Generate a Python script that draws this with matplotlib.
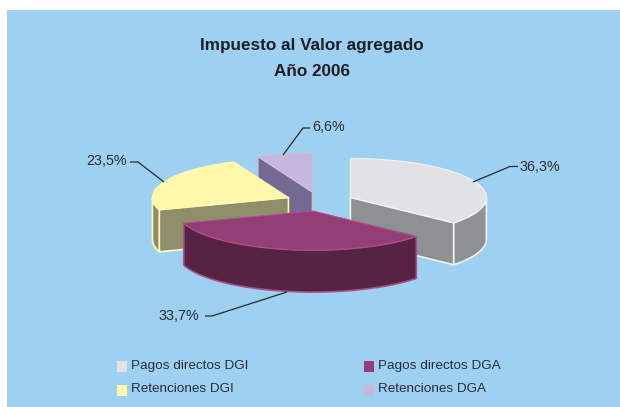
import numpy as np
import matplotlib
matplotlib.use("Agg")
import matplotlib.pyplot as plt
from matplotlib.patches import Polygon, Rectangle

plt.rcParams['font.family'] = ['Liberation Sans', 'DejaVu Sans']

title_lines = ["Impuesto al Valor agregado", "Año 2006"]
categories = ["Pagos directos DGI", "Pagos directos DGA", "Retenciones DGI", "Retenciones DGA"]
values = [36.3, 33.7, 23.5, 6.6]
value_labels = ["36,3%", "33,7%", "23,5%", "6,6%"]
top_colors = ["#E1E2E4", "#933F75", "#FFF7AC", "#C7B7DC"]
side_colors = ["#8F9092", "#572342", "#8E8F6A", "#736A92"]
edge_colors = ["#F2F3F4", "#A8508A", "#FFF9B4", "#CDBEE0"]

BG = "#9DD0F1"
INK = "#2C2C34"
CX, CY = 319.5, 201.5  # pie centre
A, B = 136, 39         # ellipse radii
DEPTH = 42
EXPLODE = 0.25

fig = plt.figure(figsize=(6.2, 4.07), dpi=100, facecolor="white")
ax = fig.add_axes([0, 0, 1, 1])
ax.set_xlim(0, 620)
ax.set_ylim(407, 0)
ax.axis("off")
ax.add_patch(Rectangle((7, 10), 613, 397, fc=BG, ec="none", zorder=0))

total = sum(values)
fracs = np.array(values) / total * 360
starts = np.concatenate([[0], np.cumsum(fracs)[:-1]])
ends = starts + fracs


def pt(c, deg, dy=0):
    r = np.radians(deg)
    return c[0] + A * np.sin(r), c[1] - B * np.cos(r) + dy


def arc(c, a0, a1, dy=0):
    t = np.linspace(a0, a1, 80)
    r = np.radians(t)
    return np.column_stack([c[0] + A * np.sin(r), c[1] - B * np.cos(r) + dy])


centers = []
for s, e in zip(starts, ends):
    m = np.radians((s + e) / 2)
    centers.append((CX + EXPLODE * A * np.sin(m), CY - EXPLODE * B * np.cos(m)))

z = 2
for i in [3, 2, 0, 1]:
    c, s, e = centers[i], starts[i], ends[i]
    side, ec = side_colors[i], edge_colors[i]
    # flat radial faces
    radial = []
    if i == 0:
        radial.append(e)
    if i in (2, 3):
        radial.append(s)
    for ang in radial:
        p = pt(c, ang)
        ax.add_patch(Polygon([c, p, (p[0], p[1] + DEPTH), (c[0], c[1] + DEPTH)],
                             fc=side, ec=ec, lw=1.2, zorder=z, joinstyle="miter"))
    # outer wall, front half only
    w0, w1 = max(s, 90), min(e, 270)
    if w1 > w0:
        upper = arc(c, w0, w1)
        lower = arc(c, w0, w1, DEPTH)[::-1]
        ax.add_patch(Polygon(np.vstack([upper, lower]), fc=side, ec=ec, lw=1.2,
                             zorder=z, joinstyle="miter"))
    # top face
    ax.add_patch(Polygon(np.vstack([[c], arc(c, s, e)]), fc=top_colors[i], ec=ec, lw=0.8,
                         zorder=z + 0.5, joinstyle="miter"))
    z += 1

# leader lines and value labels
leaders = [
    ([473, 510, 518], [182, 166.5, 166.5], 519, 167, "left"),
    ([287, 212, 205], [292, 316, 316], 199, 316, "right"),
    ([164, 138, 130], [182, 162, 162], 127, 161, "right"),
    ([283, 303, 310], [155, 128, 128], 312, 127, "left"),
]
for (lx, ly, tx, ty, ha), lab in zip(leaders, value_labels):
    ax.plot(lx, ly, color="#2A2A2A", lw=0.9, zorder=20, solid_capstyle="butt")
    ax.text(tx, ty, lab, ha=ha, va="center", fontsize=10.3, color=INK, zorder=21)

# title
for y, line in zip([45.5, 71], title_lines):
    ax.text(311.5, y, line, ha="center", va="center", fontsize=12.3,
            fontweight="bold", color="#1E1E24")

# legend
legend_pos = [(117, 365), (364, 365), (117, 389), (364, 389)]
for (x, y), name, col in zip(legend_pos, categories, top_colors):
    ax.add_patch(Rectangle((x, y - 4), 10, 11, fc=col, ec="none", zorder=5))
    ax.text(x + 14, y + 0.5, name, ha="left", va="center", fontsize=9.7, color=INK)

fig.savefig("out.png", dpi=100, facecolor="white")
